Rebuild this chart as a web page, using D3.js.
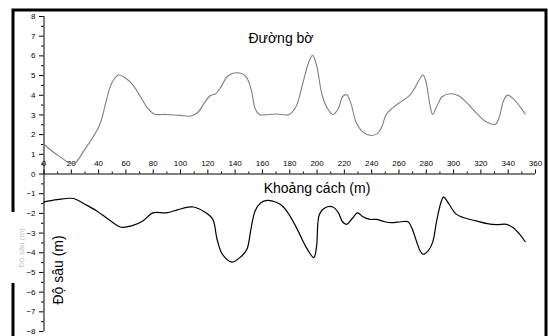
<!DOCTYPE html>
<html>
<head>
<meta charset="utf-8">
<script src="https://cdn.jsdelivr.net/npm/d3@7"></script>
<style>
  body { margin: 0; background: #fff; }
  svg { display: block; font-family: Arial, "Liberation Sans", sans-serif; }
</style>
</head>
<body>
<div id="chart"></div>
<script>
// shoreline profile (Đường bờ)
const shoreX = [0, 10, 22, 30, 41, 46, 50, 55, 60, 66, 71, 76, 81, 90, 100, 108, 113, 118, 122, 126, 130, 135, 142, 148, 152, 155, 158, 170, 180, 185, 190, 194, 197, 200, 204, 208, 212, 216, 219, 222, 225, 229, 234, 240, 245, 248, 251, 256, 262, 268, 272, 276, 278, 280, 283, 285, 288, 292, 298, 304, 310, 318, 325, 331, 334, 337, 340, 344, 349, 353];
const shoreY = [1.5, 0.95, 0.5, 1.2, 2.45, 3.7, 4.6, 5.0, 4.85, 4.45, 3.9, 3.35, 3.02, 3.0, 2.95, 2.92, 3.1, 3.6, 3.95, 4.05, 4.4, 4.95, 5.12, 4.95, 4.3, 3.3, 3.0, 3.02, 3.0, 3.4, 4.6, 5.6, 6.0, 5.5, 4.0, 3.3, 3.0, 3.3, 3.9, 4.0, 3.6, 2.6, 2.1, 1.93, 2.05, 2.4, 3.0, 3.35, 3.65, 3.95, 4.35, 4.85, 5.0, 4.7, 3.5, 3.0, 3.4, 3.9, 4.05, 3.95, 3.6, 3.0, 2.6, 2.5, 2.9, 3.7, 3.98, 3.8, 3.4, 3.0];

// depth profile (Độ sâu)
const depthX = [0, 10, 22, 30, 39, 48, 57, 65, 73, 80, 90, 98, 105, 110, 118, 124, 127, 131, 138, 145, 149, 152, 155, 159, 164, 170, 175, 180, 186, 192, 198, 200, 202, 206, 212, 216, 219, 222, 226, 230, 234, 239, 244, 250, 255, 262, 267, 270, 273, 276, 278, 282, 285, 288, 291, 293, 297, 302, 308, 317, 325, 332, 339, 344, 349, 353];
const depthY = [-1.45, -1.33, -1.27, -1.55, -1.9, -2.35, -2.73, -2.65, -2.4, -2.0, -2.0, -1.85, -1.72, -1.7, -1.95, -2.33, -3.3, -4.1, -4.5, -4.2, -3.85, -2.8, -1.9, -1.5, -1.37, -1.45, -1.65, -2.1, -2.85, -3.7, -4.27, -3.7, -2.1, -1.75, -1.7, -2.0, -2.45, -2.58, -2.3, -2.0, -2.2, -2.33, -2.33, -2.45, -2.5, -2.45, -2.45, -2.8, -3.4, -3.95, -4.1, -3.9, -3.5, -2.4, -1.5, -1.2, -1.55, -2.05, -2.25, -2.41, -2.55, -2.6, -2.58, -2.75, -3.1, -3.48];

const xTicks = d3.range(0, 361, 20);
const yTicks = d3.range(-8, 9, 1);

const width = 548;
const height = 336;

const xScale = d3.scaleLinear().domain([0, 360]).range([43.5, 535]);
const yScale = d3.scaleLinear().domain([-8, 8]).range([331, 16]);

const svg = d3.select('#chart')
  .append('svg')
  .attr('width', width)
  .attr('height', height);

// frame
const frame = svg.append('g').attr('stroke', '#000').attr('stroke-width', 3).attr('fill', 'none');
frame.append('path').attr('d', 'M13,212 V10 H546 V336');
frame.append('path').attr('d', 'M13,283 V336');

// faint hidden label on the left
svg.append('text')
  .attr('transform', 'translate(24,248) rotate(-90)')
  .attr('text-anchor', 'middle')
  .attr('font-size', 8)
  .attr('fill', '#c8c8c8')
  .text('Độ sâu (m)');

// y axis
const yAxis = d3.axisLeft(yScale)
  .tickValues(yTicks)
  .tickFormat(d3.format('d'))
  .tickSize(4.5)
  .tickPadding(3.5);

const yG = svg.append('g')
  .attr('transform', `translate(${xScale(0)},0)`)
  .call(yAxis);
yG.select('.domain').attr('d', `M0.5,${yScale(8)}V${yScale(-8)}`);

// minor y ticks
svg.append('g')
  .selectAll('line')
  .data(d3.range(-7.5, 8, 1))
  .join('line')
  .attr('x1', xScale(0) - 2.5)
  .attr('x2', xScale(0))
  .attr('y1', (d) => yScale(d) + 0.5)
  .attr('y2', (d) => yScale(d) + 0.5)
  .attr('stroke', '#000');

// x axis at zero, labels above
const xAxis = d3.axisTop(xScale)
  .tickValues(xTicks)
  .tickFormat(d3.format('d'))
  .tickSize(4)
  .tickPadding(3.5);

const xG = svg.append('g')
  .attr('transform', `translate(0,${yScale(0)})`)
  .call(xAxis);
xG.select('.domain').attr('d', `M${xScale(0)},0.5H${xScale(360)}`);

// minor x ticks
svg.append('g')
  .selectAll('line')
  .data(d3.range(10, 360, 20))
  .join('line')
  .attr('x1', (d) => xScale(d) + 0.5)
  .attr('x2', (d) => xScale(d) + 0.5)
  .attr('y1', yScale(0))
  .attr('y2', yScale(0) - 2)
  .attr('stroke', '#000');

svg.selectAll('.tick text')
  .attr('font-size', 8)
  .attr('font-family', 'Arial, "Liberation Sans", sans-serif')
  .attr('fill', '#000');

// lines
const line = d3.line()
  .x((d) => xScale(d[0]))
  .y((d) => yScale(d[1]))
  .curve(d3.curveCatmullRom.alpha(0.5));

svg.append('path')
  .datum(d3.zip(shoreX, shoreY))
  .attr('d', line)
  .attr('fill', 'none')
  .attr('stroke', '#7f7f7f')
  .attr('stroke-width', 1.1);

svg.append('path')
  .datum(d3.zip(depthX, depthY))
  .attr('d', line)
  .attr('fill', 'none')
  .attr('stroke', '#000')
  .attr('stroke-width', 1.2);

// titles
svg.append('text')
  .attr('x', 281)
  .attr('y', 43)
  .attr('text-anchor', 'middle')
  .attr('font-size', 14)
  .text('Đường bờ');

svg.append('text')
  .attr('x', 317)
  .attr('y', 193)
  .attr('text-anchor', 'middle')
  .attr('font-size', 14)
  .text('Khoảng cách (m)');

svg.append('text')
  .attr('transform', 'translate(63,270) rotate(-90)')
  .attr('text-anchor', 'middle')
  .attr('font-size', 14)
  .text('Độ sâu (m)');
</script>
</body>
</html>
